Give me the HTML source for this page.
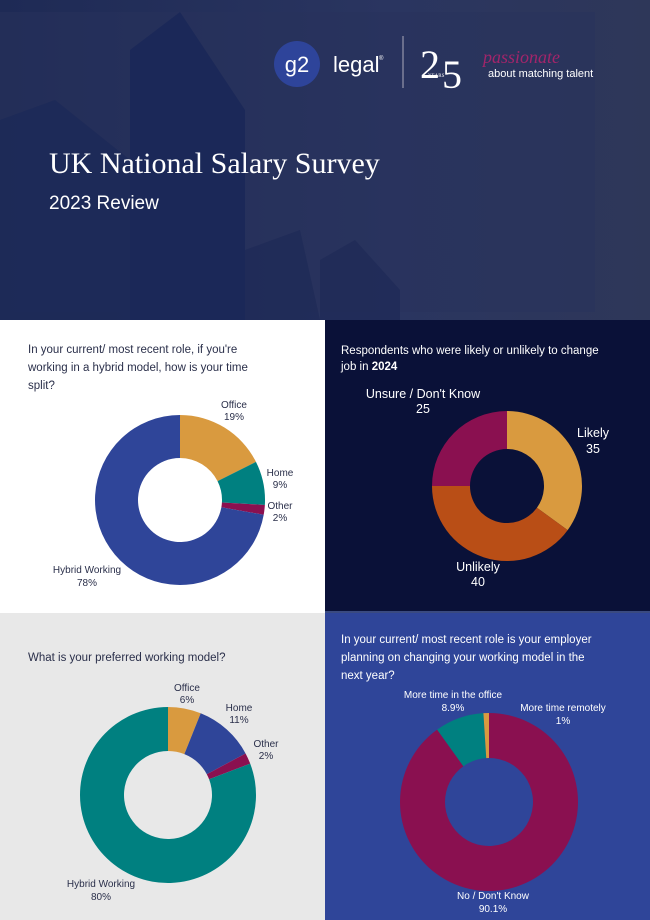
<!DOCTYPE html>
<html><head><meta charset="utf-8"><style>
*{margin:0;padding:0}
body{width:650px;height:920px;overflow:hidden;font-family:"Liberation Sans",sans-serif;background:#2d3759;position:relative}
svg{position:absolute;left:0;top:0}
</style></head><body>
<svg width="650" height="920" viewBox="0 0 650 920" xmlns="http://www.w3.org/2000/svg" id="s">
<defs><linearGradient id="hg" x1="0" y1="0" x2="1" y2="0"><stop offset="0" stop-color="#1e2a55"/><stop offset="0.6" stop-color="#2a3560"/><stop offset="1" stop-color="#2e3759"/></linearGradient></defs>
<rect x="0" y="0" width="650" height="320" fill="url(#hg)"/>
<rect x="0" y="12" width="595" height="300" fill="#27325c" opacity="0.5"/>
<polygon points="130,50 180,12 245,110 245,320 130,320" fill="#1b2858" opacity="0.9"/>
<polygon points="0,120 55,100 130,160 130,320 0,320" fill="#1d2a58" opacity="0.9"/>
<polygon points="245,250 300,230 320,320 245,320" fill="#1f2b58" opacity="0.8"/>
<polygon points="320,260 355,240 400,290 400,320 320,320" fill="#1f2b58" opacity="0.8"/>
<circle cx="297" cy="64" r="23" fill="#2e449a"/>
<text x="297" y="72" fill="#fff" font-size="22" text-anchor="middle">g2</text>
<text x="333" y="72" fill="#fff" font-size="22">legal</text>
<text x="379" y="60" fill="#fff" font-size="6">®</text>
<line x1="403" y1="36" x2="403" y2="88" stroke="#aab" stroke-width="1"/>
<text x="420" y="78" fill="#fff" font-size="40" font-family="Liberation Serif, serif">2</text>
<text x="442" y="88" fill="#fff" font-size="40" font-family="Liberation Serif, serif">5</text>
<text x="428" y="77" fill="#fff" font-size="5" font-family="Liberation Serif, serif">YEARS</text>
<text x="483" y="63" fill="#a2256a" font-size="18" font-style="italic" font-family="Liberation Serif, serif">passionate</text>
<text x="488" y="77" fill="#fff" font-size="11">about matching talent</text>
<text x="49" y="173" fill="#fff" font-size="30" font-family="Liberation Serif, serif">UK National Salary Survey</text>
<text x="49" y="209" fill="#fff" font-size="19">2023 Review</text>
<rect x="0" y="320" width="325" height="293" fill="#ffffff"/>
<rect x="325" y="320" width="325" height="293" fill="#0a1138"/>
<rect x="0" y="613" width="325" height="307" fill="#e8e8e8"/>
<rect x="325" y="613" width="325" height="307" fill="#2f4599"/>
<rect x="325" y="611" width="325" height="2" fill="#3a4a80"/>
<g id="charts"></g>
<g font-size="11.5" fill="#2a2f4a">
<text x="28" y="353">In your current/ most recent role, if you're</text>
<text x="28" y="371">working in a hybrid model, how is your time</text>
<text x="28" y="389">split?</text>
<g text-anchor="middle" font-size="10">
<text x="234" y="408">Office</text><text x="234" y="420">19%</text>
<text x="280" y="476">Home</text><text x="280" y="488">9%</text>
<text x="280" y="509">Other</text><text x="280" y="521">2%</text>
<text x="87" y="573">Hybrid Working</text><text x="87" y="586">78%</text>
</g>
</g>
<g font-size="11.5" fill="#ffffff">
<text x="341" y="354">Respondents who were likely or unlikely to change</text>
<text x="341" y="370">job in <tspan font-weight="bold">2024</tspan></text>
<g text-anchor="middle" font-size="12.5">
<text x="423" y="398">Unsure / Don't Know</text><text x="423" y="413">25</text>
<text x="593" y="437">Likely</text><text x="593" y="453">35</text>
<text x="478" y="571">Unlikely</text><text x="478" y="586">40</text>
</g>
</g>
<g font-size="11.5" fill="#2a2f4a">
<text x="28" y="661">What is your preferred working model?</text>
<g text-anchor="middle" font-size="10">
<text x="187" y="691">Office</text><text x="187" y="703">6%</text>
<text x="239" y="711">Home</text><text x="239" y="723">11%</text>
<text x="266" y="747">Other</text><text x="266" y="759">2%</text>
<text x="101" y="887">Hybrid Working</text><text x="101" y="900">80%</text>
</g>
</g>
<g font-size="11.5" fill="#ffffff">
<text x="341" y="643">In your current/ most recent role is your employer</text>
<text x="341" y="661">planning on changing your working model in the</text>
<text x="341" y="679">next year?</text>
<g text-anchor="middle" font-size="10">
<text x="453" y="698">More time in the office</text><text x="453" y="711">8.9%</text>
<text x="563" y="711">More time remotely</text><text x="563" y="724">1%</text>
<text x="493" y="899">No / Don't Know</text><text x="493" y="912">90.1%</text>
</g>
</g>
</svg>
<script>
function donut(cx,cy,R,r,data,start){
  let a=start||0,out='';
  const tot=data.reduce((s,d)=>s+d[0],0);
  for(const [v,c] of data){
    const b=a+v/tot*2*Math.PI;
    const p=(ang,rad)=>[cx+rad*Math.sin(ang),cy-rad*Math.cos(ang)];
    const [x1,y1]=p(a,R),[x2,y2]=p(b,R),[x3,y3]=p(b,r),[x4,y4]=p(a,r);
    const l=(b-a)>Math.PI?1:0;
    out+=`<path d="M${x1},${y1}A${R},${R} 0 ${l} 1 ${x2},${y2}L${x3},${y3}A${r},${r} 0 ${l} 0 ${x4},${y4}Z" fill="${c}"/>`;
    a=b;
  }
  return out;
}
const O='#d99a3f',T='#008080',M='#8a1050',B='#2f4599';
document.getElementById('charts').innerHTML=
 donut(180,500,85,42,[[19,O],[9,T],[2,M],[78,B]])+
 donut(507,486,75,37,[[35,O],[40,'#b94e16'],[25,M]])+
 donut(168,795,88,44,[[6,O],[11,B],[2,M],[80,T]])+
 donut(489,802,89,44,[[90.1,M],[8.9,T],[1,O]]);
</script>
</body></html>
